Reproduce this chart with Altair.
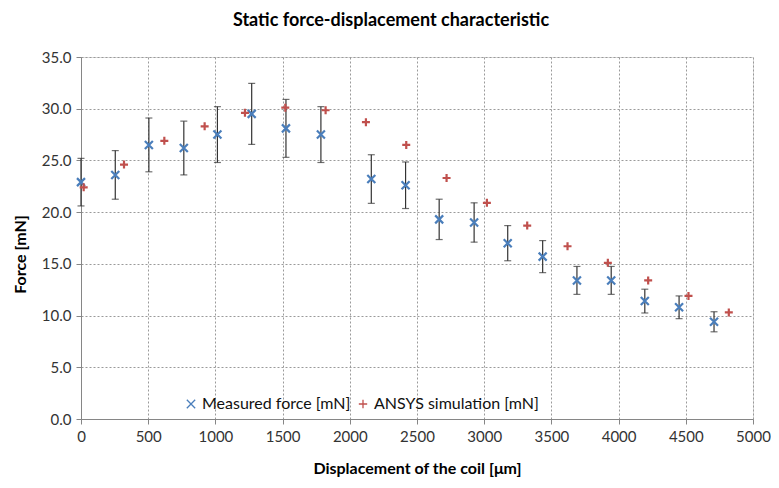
import altair as alt
import pandas as pd

# Measured force (blue x) with error bars
meas_x = [0, 255, 505, 765, 1015, 1270, 1525, 1785, 2160, 2415, 2665, 2925, 3175, 3435, 3690, 3945, 4195, 4450, 4710]
meas_y = [22.9, 23.6, 26.5, 26.2, 27.5, 29.5, 28.1, 27.5, 23.2, 22.6, 19.3, 19.0, 17.0, 15.7, 13.4, 13.4, 11.4, 10.8, 9.4]
meas_err = [2.3, 2.35, 2.6, 2.6, 2.7, 2.95, 2.8, 2.7, 2.35, 2.25, 1.95, 1.9, 1.7, 1.55, 1.35, 1.35, 1.15, 1.1, 0.97]

# ANSYS simulation (red +)
sim_x = [20, 320, 620, 920, 1220, 1520, 1820, 2120, 2420, 2720, 3020, 3320, 3620, 3920, 4220, 4520, 4820]
sim_y = [22.4, 24.6, 26.9, 28.3, 29.6, 30.1, 29.85, 28.7, 26.5, 23.3, 20.9, 18.7, 16.7, 15.1, 13.4, 11.9, 10.3]

x_ticks = [0, 500, 1000, 1500, 2000, 2500, 3000, 3500, 4000, 4500, 5000]
y_ticks = [0, 5, 10, 15, 20, 25, 30, 35]

S_MEAS = "Measured force [mN]"
S_SIM = "ANSYS simulation [mN]"

pts = pd.DataFrame(
    {"x": meas_x + sim_x,
     "y": meas_y + sim_y,
     "series": [S_MEAS] * len(meas_x) + [S_SIM] * len(sim_x)}
)
err = pd.DataFrame({
    "x": meas_x,
    "lo": [v - e for v, e in zip(meas_y, meas_err)],
    "hi": [v + e for v, e in zip(meas_y, meas_err)],
})

FONT = "Lato"
xs = alt.Scale(domain=[0, 5000], nice=False)
ys = alt.Scale(domain=[0, 35], nice=False)

x_axis = alt.Axis(values=x_ticks, title="Displacement of the coil [\u03bcm]", format="d",
                  grid=True, gridColor="#9a9a9a", gridDash=[2, 2], gridWidth=1,
                  domainColor="#868686", tickColor="#868686", tickSize=5,
                  labelFont=FONT, labelFontSize=15, labelColor="#333333", labelPadding=5,
                  titleFont=FONT, titleFontSize=16, titleFontWeight="bold", titleColor="#000000",
                  titlePadding=16, labelFlush=False)
y_axis = alt.Axis(values=y_ticks, title="Force [mN]", format=".1f",
                  grid=True, gridColor="#9a9a9a", gridDash=[2, 2], gridWidth=1,
                  domainColor="#868686", tickColor="#868686", tickSize=5,
                  labelFont=FONT, labelFontSize=15, labelColor="#333333", labelPadding=5,
                  titleFont=FONT, titleFontSize=16, titleFontWeight="bold", titleColor="#000000",
                  titlePadding=13, titleY=197, labelFlush=False)

base_err = alt.Chart(err)
rules = base_err.mark_rule(color="#333333", strokeWidth=1.2).encode(
    x=alt.X("x:Q", scale=xs, axis=x_axis),
    y=alt.Y("lo:Q", scale=ys, axis=y_axis),
    y2="hi:Q",
)
caps_lo = base_err.mark_tick(color="#333333", orient="horizontal", size=7, thickness=1.2).encode(
    x=alt.X("x:Q", scale=xs), y=alt.Y("lo:Q", scale=ys))
caps_hi = base_err.mark_tick(color="#333333", orient="horizontal", size=7, thickness=1.2).encode(
    x=alt.X("x:Q", scale=xs), y=alt.Y("hi:Q", scale=ys))

XPATH = "M-1,-1L1,1M-1,1L1,-1"
PPATH = "M-1,0L1,0M0,-1L0,1"

points = alt.Chart(pts).mark_point(filled=False, strokeWidth=2.2, size=64, opacity=1).encode(
    x=alt.X("x:Q", scale=xs),
    y=alt.Y("y:Q", scale=ys),
    color=alt.Color("series:N",
                    scale=alt.Scale(domain=[S_MEAS, S_SIM], range=["#4A7EBB", "#C0504D"]),
                    legend=alt.Legend(title=None, orient="none", legendX=102, legendY=339,
                                      direction="horizontal", labelFont=FONT, labelFontSize=16,
                                      labelColor="#111111", symbolStrokeWidth=1.3, symbolSize=70,
                                      columnPadding=4, labelOffset=3, labelLimit=400)),
    shape=alt.Shape("series:N",
                    scale=alt.Scale(domain=[S_MEAS, S_SIM], range=[XPATH, PPATH])),
)

chart = alt.layer(rules, caps_lo, caps_hi, points).properties(
    width=672, height=362,
    title=alt.TitleParams("Static force-displacement characteristic", font=FONT, fontSize=18,
                          fontWeight="bold", color="#000000", dx=-26, offset=20),
    autosize=alt.AutoSizeParams(type="none"),
    padding={"left": 73, "top": 49, "right": 18, "bottom": 61},
).configure_view(stroke=None).configure(background="white")

chart.save("out.html", embed_options={"renderer": "svg", "actions": False})
